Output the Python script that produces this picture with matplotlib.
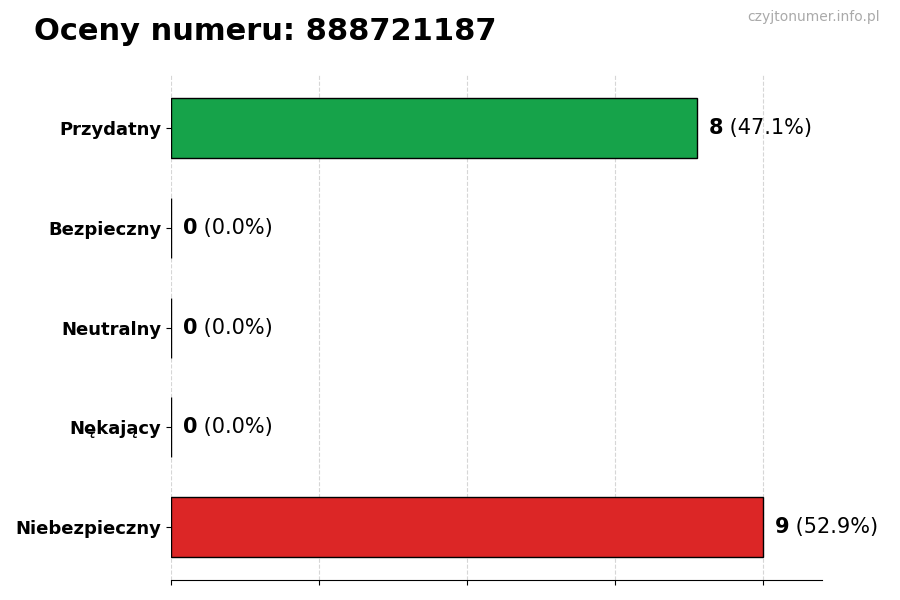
import matplotlib
matplotlib.use("Agg")
import matplotlib.pyplot as plt
import numpy as np

# Data
categories = ["Przydatny", "Bezpieczny", "Neutralny", "Nękający", "Niebezpieczny"]
counts = [8, 0, 0, 0, 9]
colors = ["#16a34a", "#9ca3af", "#3b82f6", "#f59e0b", "#dc2626"]
number = "888721187"

total = sum(counts)
max_val = max(counts)

fig = plt.figure(figsize=(9, 6), dpi=100)
ax = fig.add_axes([0.19, 0.033, 0.723, 0.842])

y = np.arange(len(categories))[::-1]
ax.barh(y, counts, height=0.6, color=colors, edgecolor="black", linewidth=1, zorder=3)

ax.set_yticks(y)
ax.set_yticklabels(categories, fontsize=13, fontweight="bold")
ax.set_xlim(0, max_val * 1.1)
ax.set_xticks(np.linspace(0, max_val, 5))
ax.set_xticklabels([])
ax.grid(axis="x", linestyle="--", color="#cccccc", alpha=0.8, zorder=0)

for s in ["top", "right", "left"]:
    ax.spines[s].set_visible(False)

fig.canvas.draw()
renderer = fig.canvas.get_renderer()
for yi, c in zip(y, counts):
    pct = c / total * 100 if total else 0
    t = ax.text(c + max_val * 0.02, yi, str(c), fontsize=15, fontweight="bold",
                va="center", ha="left")
    bb = t.get_window_extent(renderer=renderer)
    ax.annotate(f" ({pct:.1f}%)", xy=(bb.x1, 0), xycoords="figure pixels",
                xytext=(0, 0), textcoords="offset points", fontsize=15,
                va="center", ha="left", annotation_clip=False)
    # place percentage at same vertical position
    ax.texts[-1].xy = (bb.x1, (bb.y0 + bb.y1) / 2)

fig.text(0.038, 0.948, f"Oceny numeru: {number}", fontsize=22, fontweight="bold",
         ha="left", va="center")
fig.text(0.978, 0.972, "czyjtonumer.info.pl", fontsize=10, color="#aaaaaa",
         ha="right", va="center")

fig.savefig("out.png", dpi=100)
